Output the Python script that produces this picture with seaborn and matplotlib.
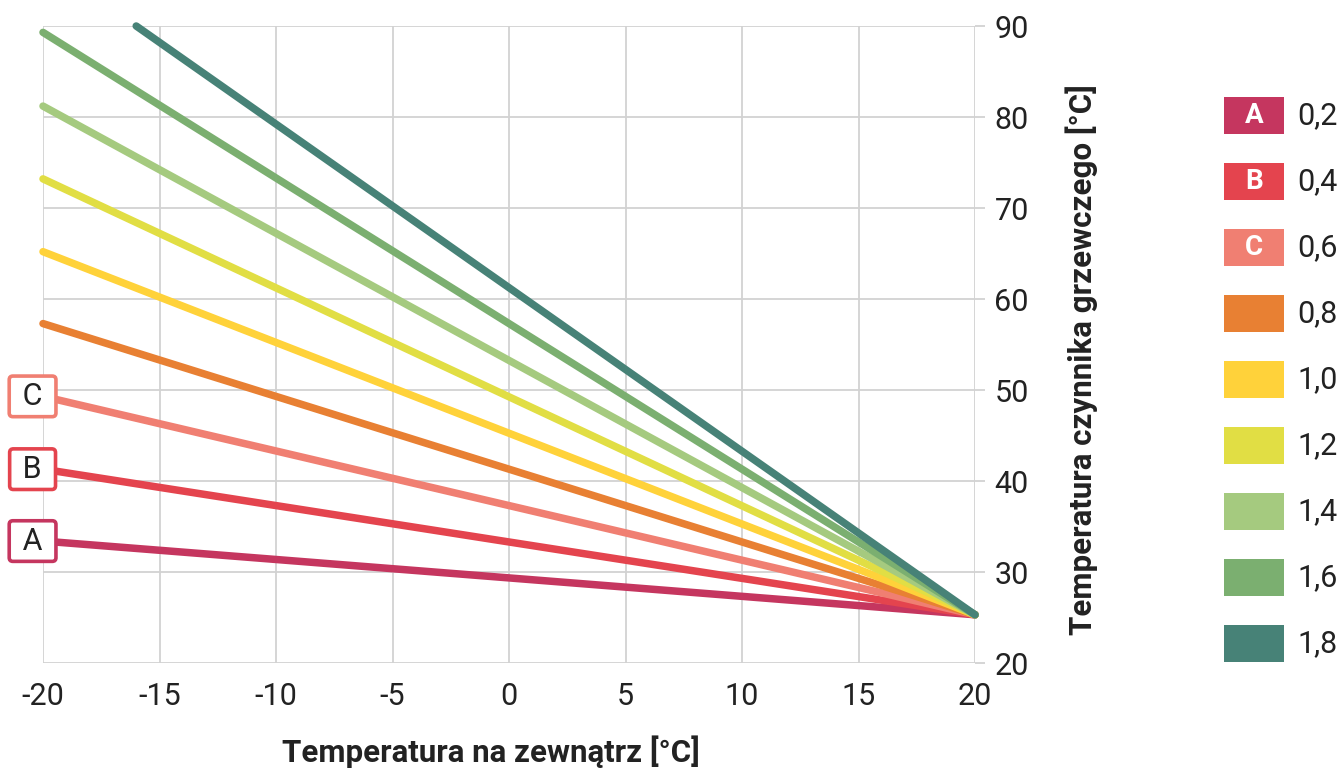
import matplotlib
matplotlib.use("Agg")
import matplotlib.pyplot as plt
from matplotlib.patches import Rectangle
import pandas as pd
import seaborn as sns

sns.set_style("white")
plt.rcParams['font.family'] = ['Roboto', 'DejaVu Sans']
plt.rcParams['axes.unicode_minus'] = False

# heating curves: slope, start point (outdoor temp, supply temp), common end point
slopes = [0.2, 0.4, 0.6, 0.8, 1.0, 1.2, 1.4, 1.6, 1.8]
slope_labels = ['0,2', '0,4', '0,6', '0,8', '1,0', '1,2', '1,4', '1,6', '1,8']
curve_tags = ['A', 'B', 'C', '', '', '', '', '', '']
x_start = [-20, -20, -20, -20, -20, -20, -20, -20, -16]
y_start = [33.4, 41.3, 49.3, 57.3, 65.2, 73.2, 81.2, 89.3, 90.0]
x_end = 20
y_end = 25.3
colors = ['#C5365F', '#E4444E', '#F07F72', '#E88033', '#FFD23A',
          '#E1DE44', '#A5CA7F', '#7BAF70', '#478277']

x_ticks = [-20, -15, -10, -5, 0, 5, 10, 15, 20]
y_ticks = [20, 30, 40, 50, 60, 70, 80, 90]

rows = []
for s, xs, ys in zip(slope_labels, x_start, y_start):
    rows.append({'curve': s, 'x': xs, 'y': ys})
    rows.append({'curve': s, 'x': x_end, 'y': y_end})
df = pd.DataFrame(rows)

W, H = 1341, 771
fig = plt.figure(figsize=(W / 100, H / 100), dpi=100)
ax = fig.add_axes([43 / W, 1 - 663 / H, (975 - 43) / W, (663 - 26) / H])

sns.lineplot(data=df, x='x', y='y', hue='curve', hue_order=slope_labels,
             palette=colors, linewidth=5.4, solid_capstyle='round',
             estimator=None, legend=False, ax=ax)
for line in ax.lines:
    line.set_clip_on(False)

ax.set_xlim(-20, 20)
ax.set_ylim(20, 90)
ax.set_xticks(x_ticks)
ax.set_yticks(y_ticks)
ax.grid(True, color='#d2d2d2', linewidth=1.3)
ax.set_axisbelow(True)
for sp in ax.spines.values():
    sp.set_visible(False)
ax.yaxis.tick_right()
ax.tick_params(axis='both', colors='#d2d2d2', length=7, width=1.3,
               labelsize=22, labelcolor='#222222')
ax.tick_params(axis='x', pad=7)
ax.tick_params(axis='y', pad=7)

ax.set_xlabel('Temperatura na zewnątrz [°C]', fontsize=22.5,
              fontweight='bold', color='#222222')
ax.xaxis.set_label_coords((491 - 43) / (975 - 43), -(752 - 663) / (663 - 26))
ax.xaxis.label.set_va('center')
ax.yaxis.set_label_position('right')
ax.set_ylabel('Temperatura czynnika grzewczego [°C]', fontsize=22.5,
              fontweight='bold', color='#222222')
ax.yaxis.set_label_coords((1082 - 43) / (975 - 43), (663 - 360) / (663 - 26))
ax.yaxis.label.set_va('center')

# tags at the start of curves A, B, C
for tag, xs, ys, c in zip(curve_tags, x_start, y_start, colors):
    if tag:
        ax.annotate(' ' + tag + ' ', xy=(xs, ys), xytext=(-7.5, 0),
                    textcoords='offset points', ha='center', va='center',
                    fontsize=22, color='#222222', zorder=10,
                    bbox=dict(boxstyle='round,pad=0.19,rounding_size=0.12',
                              fc='white', ec=c, lw=2.6))

# legend on the right
for i, (lab, tag, c) in enumerate(zip(slope_labels, curve_tags, colors)):
    cy = 115.5 + 66 * i
    fig.add_artist(Rectangle((1224 / W, 1 - (cy + 18.5) / H), 60 / W, 37 / H,
                             transform=fig.transFigure, color=c, lw=0))
    if tag:
        fig.text(1254 / W, 1 - cy / H, tag, color='white', fontsize=20,
                 fontweight='bold', ha='center', va='center')
    fig.text(1297 / W, 1 - cy / H, lab, color='#222222', fontsize=22,
             ha='left', va='center')

fig.savefig('out.png', dpi=100)
